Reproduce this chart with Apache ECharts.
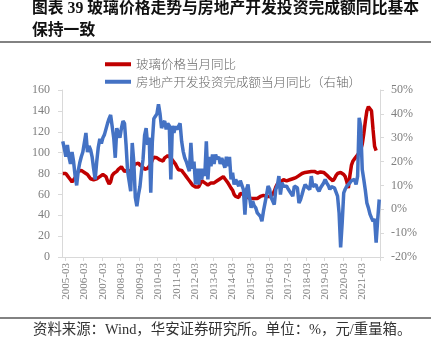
<!DOCTYPE html>
<html><head><meta charset="utf-8">
<script src="https://cdn.jsdelivr.net/npm/echarts@6/dist/echarts.min.js"></script>
<style>html,body{margin:0;padding:0;background:#fff}#c{width:433px;height:353px}</style>
</head><body><div id="c"></div>
<script>
// Monthly categories 2005-01 .. 2022-02
const startYear = 2005;
const monthCount = 206;
const categories = [];
for (let i = 0; i < monthCount; i++) {
  const y = startYear + Math.floor(i / 12);
  const m = (i % 12) + 1;
  categories.push(y + '-' + (m < 10 ? '0' + m : m));
}

// 玻璃价格 (left axis, 元/重量箱) 2005-01 .. 2021-12
const glassPrice = [
  80, 81, 80, 78, 76, 74, 72, 73, 76, 79, 82, 83,
  83, 82, 81, 81, 79, 77, 75, 74, 74, 75, 75, 76,
  77, 78, 79, 80, 77, 73, 70, 72, 78, 80, 80, 82,
  84, 85, 86.5, 84, 82, 83, 83, 82, 82, 86, 87, 89,
  88, 90, 88, 87, 86, 84, 84, 85, 87, 89, 93, 95.5,
  96, 95, 94, 93, 91.5, 92, 95, 94, 97, 98, 95, 93,
  92, 89, 86, 83.5, 83, 83, 81, 79, 77, 75, 73, 71,
  69, 68, 67, 67, 67, 70, 73, 72, 71, 70, 69, 70,
  71, 70, 71, 72, 73, 74, 75, 76, 77, 75, 73, 71,
  70, 66, 64, 60, 58, 57, 57, 61, 61, 60, 58, 57,
  57, 56, 56, 56, 56, 55, 56, 57, 58, 58.5, 59, 58.5,
  58, 58, 58, 59, 60, 63, 67, 70, 71, 72, 73, 74,
  73, 73, 73.5, 74, 74, 75, 75, 76, 77, 78, 79, 80,
  80, 81, 81, 81.5, 82, 82, 82.5, 82, 81, 80.5, 81, 81.5,
  82, 81, 80, 78.5, 77, 75.5, 74, 73, 75, 78, 80, 81,
  81, 80, 79, 77, 72, 66, 78, 88, 92, 94, 96, 98,
  100, 103, 108, 118, 130, 140, 144, 145, 140, 122, 106, 102
];

// 房地产开发投资完成额当月同比 (right axis, %) 2005-01 .. 2022-02
const investYoY = [
  28.5, 25.5, 22, 27, 22, 19, 24, 20, 14, 10, 16, 19.5,
  22, 24, 28, 32, 24, 26.5, 25, 22, 17, 12.5, 20, 26,
  29.5, 27.6, 30, 31.3, 30.5, 36, 38, 39.5, 39, 30, 21.6, 34,
  32, 30, 34, 37, 36, 27, 16, 11.8, 7.6, 27.8, 20, 5,
  1.3, 6, 9.5, 16, 21, 31, 34, 27, 30, 7, 28, 38,
  39, 40, 44, 40, 34, 36, 37, 33.5, 36, 35, 12.5, 35,
  32, 34.8, 33.5, 32.7, 36, 28.5, 24.3, 21.6, 20, 18, 16, 27.8,
  17, 20, 10.4, 17, 10.4, 17, 12.5, 17, 14, 28.5, 12.5, 22,
  18, 23, 19, 23, 21, 22, 19, 21.5, 22, 17.4, 22, 18,
  22, 12.5, 15.3, 10.4, 12.5, 11, 9.7, 12, 11.8, 8.3, -2.2, 8.3,
  10.4, 5, 0.6, 3.4, 1.5, 0.6, -1.5, -2.2, -3, -5, -0.8, 2.6,
  6, 9.7, 8.5, 4.8, 3.5, 2, 8.3, 10, 13.9, 6.2, 11.1, 9.7,
  9.5, 9.7, 8.5, 8.3, 6.5, 5.5, 9.7, 9.5, 9, 2.6, 4, 6.2,
  8.5, 10.4, 9.5, 10, 8.3, 13.9, 9.5, 9, 10.4, 8.5, 7.6, 9,
  9.5, 11, 12.5, 11, 10, 8.3, 9.5, 10, 9, 9, 5.5, -1.5,
  -16, -5.7, 6.9, 8.5, 9.7, 10.5, 11.1, 12, 12.5, 12.5, 10.4, 13.9,
  38.3, 34.8, 16.7, 12.5, 8, 2.6, 0.6, -2, -3.6, -5, -4, -14,
  -4.3, 4.1
];

const seriesNames = ['玻璃价格当月同比', '房地产开发投资完成额当月同比（右轴）'];
const titleLines = ['图表 39 玻璃价格走势与房地产开发投资完成额同比基本', '保持一致'];
const sourceText = '资料来源：Wind，华安证券研究所。单位：%，元/重量箱。';

const serif = '"Liberation Serif","Noto Sans CJK SC",serif';
const cjk = '"Noto Sans CJK SC","Liberation Serif",sans-serif';
const labelEvery = (idx) => idx % 12 === 2;
const axisGray = '#d9d9d9';
const labelGray = '#7f7f7f';

const chart = echarts.init(document.getElementById('c'), null, {renderer: 'canvas'});
chart.setOption({
  animation: false,
  backgroundColor: '#fff',
  grid: {left: 62, right: 53, top: 90, bottom: 96, containLabel: false},
  legend: {
    orient: 'vertical', left: 100, top: 53, itemWidth: 26, itemHeight: 4, itemGap: 5,
    icon: 'rect', data: seriesNames, selectedMode: false,
    textStyle: {color: '#666', fontSize: 12.5, fontWeight: 300, fontFamily: cjk, padding: [0, 0, 0, 0]}
  },
  xAxis: {
    type: 'category', data: categories, boundaryGap: true,
    axisLine: {show: true, lineStyle: {color: axisGray, width: 1}},
    axisTick: {show: true, interval: labelEvery, length: 4, lineStyle: {color: axisGray}},
    axisLabel: {interval: labelEvery, rotate: 90, margin: 6, fontSize: 11, color: labelGray, fontFamily: serif},
    splitLine: {show: false}
  },
  yAxis: [
    {
      type: 'value', min: 0, max: 160, interval: 20, position: 'left',
      axisLine: {show: true, lineStyle: {color: axisGray}},
      axisTick: {show: true, length: 4, lineStyle: {color: axisGray}},
      axisLabel: {color: labelGray, fontSize: 12, fontFamily: serif, margin: 12},
      splitLine: {show: false}
    },
    {
      type: 'value', min: -20, max: 50, interval: 10, position: 'right', alignTicks: false,
      axisLine: {show: true, lineStyle: {color: axisGray}},
      axisTick: {show: true, length: 4, lineStyle: {color: axisGray}},
      axisLabel: {color: labelGray, fontSize: 12, fontFamily: serif, margin: 11, formatter: '{value}%'},
      splitLine: {show: false}
    }
  ],
  series: [
    {
      name: seriesNames[0], type: 'line', yAxisIndex: 0, data: glassPrice,
      symbol: 'none', smooth: false,
      lineStyle: {color: '#C00000', width: 3.5}, itemStyle: {color: '#C00000'}
    },
    {
      name: seriesNames[1], type: 'line', yAxisIndex: 1, data: investYoY,
      symbol: 'none', smooth: false,
      lineStyle: {color: '#4472C4', width: 3.5}, itemStyle: {color: '#4472C4'}
    }
  ],
  graphic: [
    {type: 'text', left: 32, top: 1, style: {text: titleLines[0], font: 'bold 15.8px ' + serif, fill: '#111'}},
    {type: 'text', left: 32, top: 23, style: {text: titleLines[1], font: 'bold 15.8px ' + serif, fill: '#111'}},
    {type: 'line', shape: {x1: 0, y1: 42, x2: 431, y2: 42}, style: {stroke: '#595959', lineWidth: 1.5}},
    {type: 'line', shape: {x1: 0, y1: 318, x2: 431, y2: 318}, style: {stroke: '#595959', lineWidth: 1.5}},
    {type: 'text', left: 33, top: 323, style: {text: sourceText, font: '14.4px ' + serif, fill: '#333'}}
  ]
});
</script>
</body></html>
